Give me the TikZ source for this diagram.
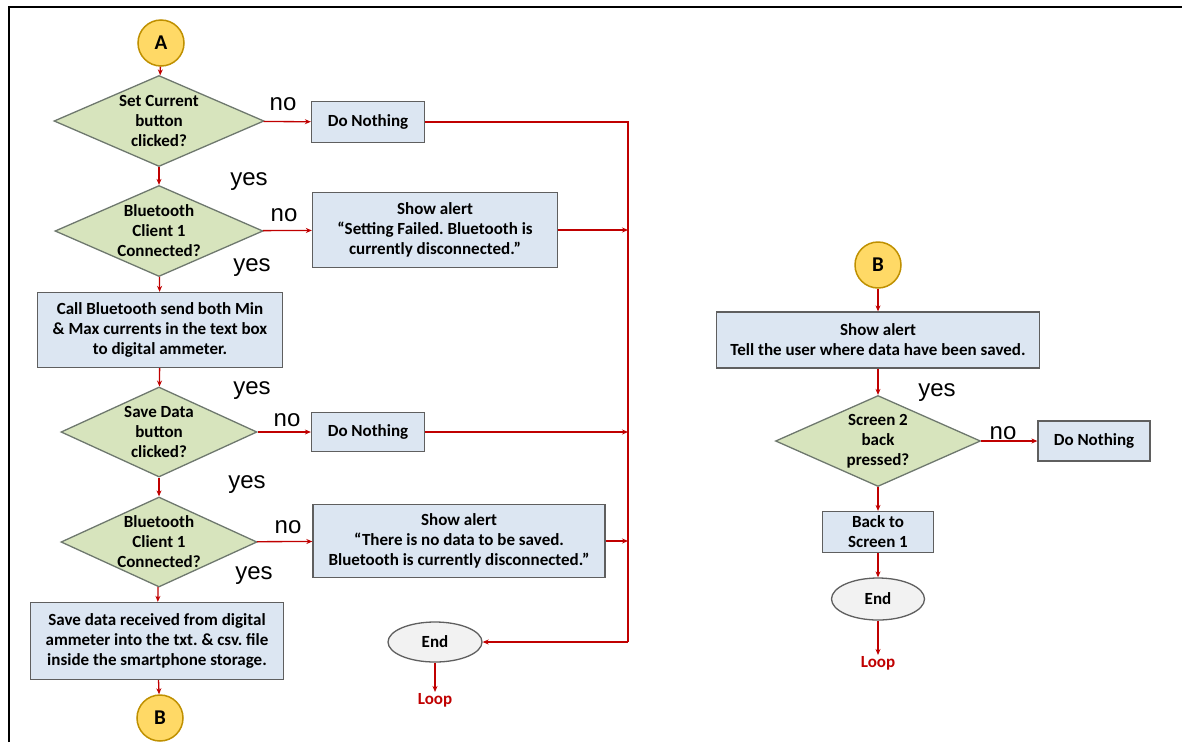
\documentclass[tikz,border=0pt]{standalone}
\usepackage{fontspec}
\setmainfont{Carlito}
\newfontfamily\arialf{Liberation Sans}
\usetikzlibrary{shapes.geometric,arrows.meta}
\definecolor{arrred}{RGB}{192,0,0}
\definecolor{boxfill}{RGB}{220,230,242}
\definecolor{boxdraw}{RGB}{95,95,95}
\definecolor{diafill}{RGB}{215,228,189}
\definecolor{diadraw}{RGB}{110,120,110}
\definecolor{circfill}{RGB}{255,217,102}
\definecolor{circdraw}{RGB}{191,144,0}
\definecolor{endfill}{RGB}{242,242,242}
\frenchspacing
\begin{document}
\begin{tikzpicture}[x=1pt,y=-1pt,
  every node/.style={font=\fontsize{17}{20}\selectfont\bfseries},
  procbox/.style n args={2}{rectangle, draw=boxdraw, fill=boxfill, line width=1.3pt,
    align=center, inner sep=0pt, minimum width=#1, minimum height=#2},
  decision/.style n args={2}{diamond, draw=diadraw, fill=diafill, line width=1.3pt,
    inner sep=0pt, minimum width=#1, minimum height=#2},
  dtext/.style={align=center, inner sep=0pt},
  connector/.style={draw=arrred, line width=1.3pt, -{Stealth[length=6pt,width=5pt]}},
  plainline/.style={draw=arrred, line width=1.3pt},
  yn/.style={font=\arialf\fontsize{24}{24}\selectfont, inner sep=0pt},
  term/.style={circle, draw=circdraw, fill=circfill, line width=1.5pt, minimum size=46pt,
    inner sep=0pt, font=\fontsize{21}{21}\selectfont\bfseries},
  endnode/.style n args={2}{ellipse, draw=boxdraw, fill=endfill, line width=1.3pt,
    minimum width=#1, minimum height=#2, inner sep=0pt},
  looptext/.style={text=arrred, inner sep=1pt, font=\fontsize{17}{17}\selectfont\bfseries}
]
\useasboundingbox (0,0) rectangle (1182,742);
\fill[white] (0,0) rectangle (1182,742);
\draw[line width=2pt] (9,742) -- (9,7) -- (1182,7);

% left column
\node[term] (A) at (161,43) {A};
\node[decision={210pt}{91pt}, label={[dtext]center:{Set Current\\button\\clicked?}}] (d1) at (159,121) {};
\node[procbox={113pt}{41pt}] (dn1) at (368,122) {Do Nothing};
\node[decision={208pt}{91pt}, label={[dtext]center:{Bluetooth\\Client 1\\Connected?}}] (d2) at (159,231) {};
\node[procbox={245pt}{75pt}] (sa1) at (435,230) {Show alert\\“Setting Failed. Bluetooth is\\currently disconnected.”};
\node[procbox={245pt}{75pt}] (call) at (160,330) {Call Bluetooth send both Min\\\& Max currents in the text box\\to digital ammeter.};
\node[decision={196pt}{90pt}, label={[dtext]center:{Save Data\\button\\clicked?}}] (d3) at (159,432) {};
\node[procbox={113pt}{39pt}] (dn2) at (368,432) {Do Nothing};
\node[decision={196pt}{90pt}, label={[dtext]center:{Bluetooth\\Client 1\\Connected?}}] (d4) at (159,542) {};
\node[procbox={292pt}{73pt}] (sa2) at (459,541) {Show alert\\“There is no data to be saved.\\Bluetooth is currently disconnected.”};
\node[procbox={253pt}{77pt}] (save) at (157,641) {Save data received from digital\\ammeter into the txt. \& csv. file\\inside the smartphone storage.};
\node[term] (B1) at (160,718) {B};
\node[endnode={94pt}{40pt}] (end1) at (435,642) {End};
\node[looptext] (loop1) at (435,700) {Loop};

\coordinate (j1) at (628,122);
\coordinate (j2) at (628,230);
\coordinate (j3) at (628,432);
\coordinate (j4) at (628,541);
\coordinate (j5) at (628,642);

% labels left
\node[yn] (no1) at (283,104) {no};
\node[yn] (yes1) at (249,182) {yes};
\node[yn] (no2) at (284,215) {no};
\node[yn] (yes2) at (252,268) {yes};
\node[yn] (yes3) at (252,391) {yes};
\node[yn] (no3) at (287,420) {no};
\node[yn] (yes4) at (247,485) {yes};
\node[yn] (no4) at (288,527) {no};
\node[yn] (yes5) at (254,576) {yes};

% right column
\node[term] (B2) at (878,265) {B};
\node[procbox={323pt}{56pt}] (sa3) at (878,340) {Show alert\\Tell the user where data have been saved.};
\node[decision={205pt}{91pt}, label={[dtext]center:{Screen 2\\back\\pressed?}}] (d5) at (878,441) {};
\node[procbox={112pt}{40pt}] (dn3) at (1094,441) {Do Nothing};
\node[procbox={111pt}{41pt}] (back) at (878,532) {Back to\\Screen 1};
\node[endnode={93pt}{42pt}] (end2) at (878,599) {End};
\node[looptext] (loop2) at (878,663) {Loop};
\node[yn] (yes6) at (937,393) {yes};
\node[yn] (no5) at (1003,433) {no};

% connectors left
\draw[connector] (A) -- (d1);
\draw[connector] (d1) -- (dn1);
\draw[connector] (d1) -- (d2);
\draw[connector] (d2) -- (sa1);
\draw[connector] (d2) -- (call);
\draw[connector] (call) -- (d3);
\draw[connector] (d3) -- (dn2);
\draw[connector] (d3) -- (d4);
\draw[connector] (d4) -- (sa2);
\draw[connector] (d4) -- (save);
\draw[connector] (save) -- (B1);
\draw[plainline] (dn1.east) -- (j1) -- (j5);
\draw[connector] (sa1.east) -- (j2);
\draw[connector] (dn2.east) -- (j3);
\draw[connector] (sa2.east) -- (j4);
\draw[connector] (j5) -- (end1.east);
\draw[connector] (end1) -- (loop1);

% connectors right
\draw[connector] (B2) -- (sa3);
\draw[connector] (sa3) -- (d5);
\draw[connector] (d5) -- (dn3);
\draw[connector] (d5) -- (back);
\draw[connector] (back) -- (end2);
\draw[connector] (end2) -- (loop2);
\end{tikzpicture}
\end{document}
